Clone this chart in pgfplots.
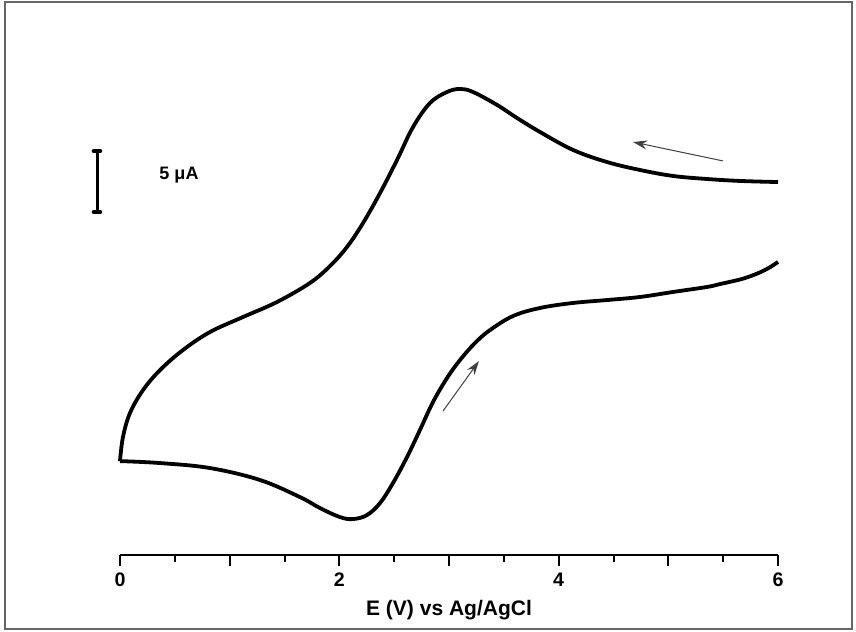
\documentclass[border=0pt]{standalone}
\usepackage{fontspec}
\setmainfont{Liberation Sans}
\usepackage{pgfplots}
\pgfplotsset{compat=1.18}
\usetikzlibrary{arrows.meta}

\begin{document}
\begin{tikzpicture}
\begin{axis}[
  scale only axis, width=329pt, height=257.5pt,
  xmin=0, xmax=6, ymin=0, ymax=42.21,
  axis x line=bottom, axis y line=none,
  x axis line style={-, line width=1pt},
  xtick={0,1,...,6}, xticklabels={0,,2,,4,,6},
  minor xtick={0.5,1.5,...,5.5},
  xtick align=outside,
  major tick length=5.5pt, minor tick length=3.5pt,
  tick style={black, line width=1pt},
  tick label style={font=\fontsize{9.8}{10}\selectfont\bfseries},
  xlabel={E (V) vs Ag/AgCl},
  xlabel style={font=\fontsize{10.5}{12}\selectfont\bfseries},
  clip=false,
]
% forward scan
\addplot[line width=1.9pt, smooth, tension=0.6] coordinates {
  (0,7.70) (0.365,7.54) (0.821,7.13) (1.277,6.15) (1.641,4.75)
  (1.824,3.85) (2.006,3.11) (2.125,2.95) (2.252,3.28) (2.371,4.26)
  (2.489,5.90) (2.617,8.03) (2.735,10.25) (2.854,12.54) (2.982,14.51)
  (3.100,15.98) (3.237,17.38) (3.374,18.44) (3.584,19.59) (3.830,20.25)
  (4.131,20.66) (4.441,20.90) (4.741,21.15) (5.042,21.56) (5.352,21.97)
  (5.471,22.21) (5.699,22.70) (5.881,23.36) (6.0,24.02)
};
% reverse scan
\addplot[line width=1.9pt, smooth, tension=0.6] coordinates {
  (6.0,30.57) (5.653,30.66) (5.352,30.82) (5.042,31.07) (4.741,31.56)
  (4.441,32.21) (4.131,33.20) (3.830,34.67) (3.620,35.82) (3.438,36.89)
  (3.219,37.95) (3.100,38.20) (2.982,37.95) (2.827,37.05) (2.672,35.08)
  (2.526,32.38) (2.371,29.67) (2.216,27.21) (2.070,25.25) (1.915,23.69)
  (1.732,22.30) (1.432,20.74) (1.122,19.51) (0.821,18.28) (0.574,16.80)
  (0.365,15.16) (0.210,13.52) (0.091,11.64) (0.027,9.67) (0,7.70)
};
% scan direction arrows
\draw[black!75, line width=0.5pt, -{Stealth[length=7pt,width=4.5pt]}]
  (axis cs:5.498,32.30) -- (axis cs:4.678,33.85);
\draw[black!75, line width=0.5pt, -{Stealth[length=7pt,width=4.5pt]}]
  (axis cs:2.945,11.80) -- (axis cs:3.273,15.90);
% scale bar
\draw[line width=1.5pt] (axis cs:-0.2097,28.11) -- (axis cs:-0.2097,33.11);
\draw[line width=2pt, line cap=round] (axis cs:-0.240,33.11) -- (axis cs:-0.180,33.11);
\draw[line width=2pt, line cap=round] (axis cs:-0.240,28.11) -- (axis cs:-0.180,28.11);
\node[font=\fontsize{9}{10}\selectfont\bfseries] at (axis cs:0.538,31.15) {5 μA};
% frame and page
\draw[black!60, line width=0.7pt] (axis cs:-1.0486,-6.066) rectangle (axis cs:6.674,45.33);
\path (axis cs:-1.0942,-6.23) rectangle (axis cs:6.711,45.49);
\end{axis}
\end{tikzpicture}
\end{document}
